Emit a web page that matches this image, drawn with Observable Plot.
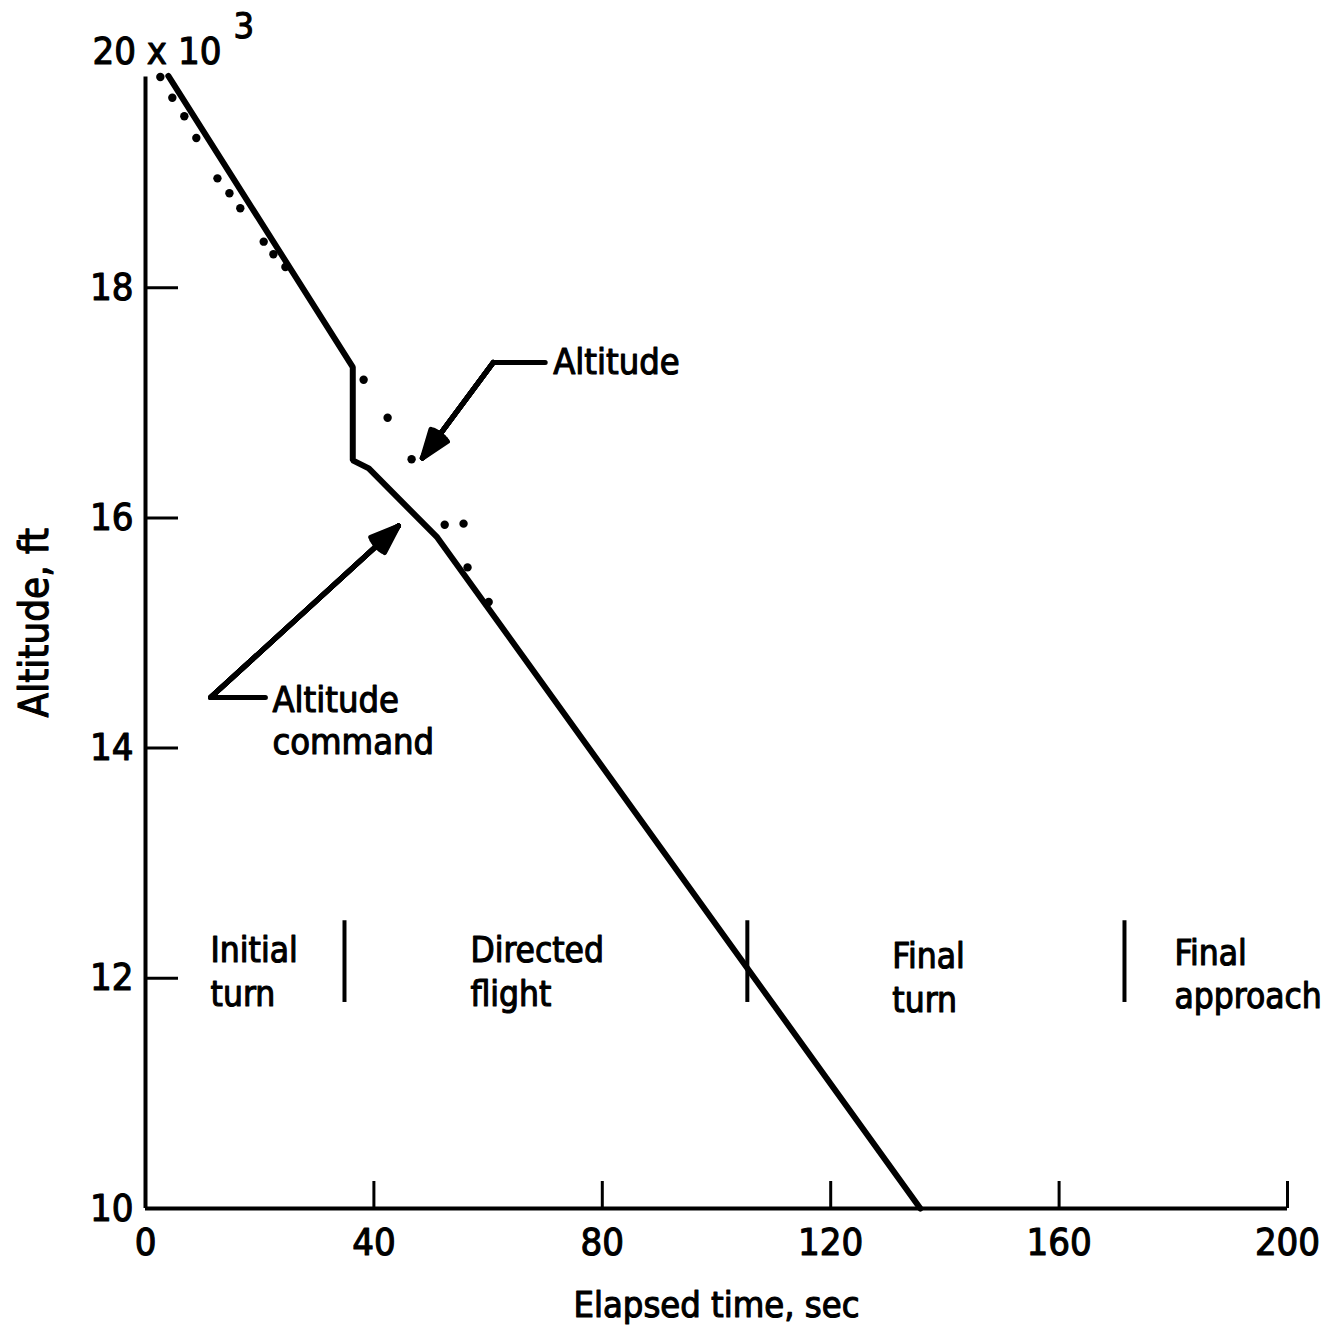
<!DOCTYPE html>
<html><head><meta charset="utf-8">
<script src="https://cdn.jsdelivr.net/npm/d3@7"></script>
<script src="https://cdn.jsdelivr.net/npm/@observablehq/plot@0.6"></script>
<style>body{margin:0;background:#fff}</style>
</head><body><div id="chart"></div>
<script>
// Altitude command (solid line), elapsed time in sec, altitude in thousands of ft
const commandTime = [4.0, 36.3, 36.3, 39.1, 51.1, 135.7];
const commandAlt  = [19.84, 17.31, 16.50, 16.43, 15.83, 10.0];
// Measured altitude (dots)
const altitudeTime = [2.6, 4.7, 6.8, 8.9, 12.6, 14.7, 16.6, 20.7, 22.4, 24.5, 38.2, 42.4, 46.6, 52.4, 55.7, 56.4, 60.1];
const altitudeAlt  = [19.83, 19.65, 19.49, 19.30, 18.95, 18.82, 18.69, 18.40, 18.29, 18.18, 17.20, 16.87, 16.51, 15.94, 15.95, 15.57, 15.27];
// Axes
const xTicks = [40, 80, 120, 160, 200];
const xTickLabels = [0, 40, 80, 120, 160, 200];
const yTicks = [12, 14, 16, 18];
const yTickLabels = [10, 12, 14, 16, 18];
const yTopLabel = "20 x 10";
const yTopExponent = "3";
const yAxisTop = 19.83;
// Flight phases
const phaseBounds = [34.85, 105.4, 171.45];
const phaseBarLow = 11.79, phaseBarHigh = 12.5;
const phaseNames = ["Initial\nturn", "Directed\nflight", "Final\nturn", "Final\napproach"];
const phaseStart = [11.4, 56.9, 130.8, 180.2];
const phaseMid = [12.07, 12.07, 12.02, 12.05];
// Annotations (leader polylines ending in arrow tips)
const altLeaderX = [70.0, 60.9, 48.5];
const altLeaderY = [17.35, 17.35, 16.52];
const cmdLeaderX = [21.0, 11.4, 44.3];
const cmdLeaderY = [14.44, 14.44, 15.93];

const FONT = "'DejaVu Sans Condensed', 'DejaVu Sans', sans-serif";
const pts = (xs, ys) => xs.map((x, i) => ({x, y: ys[i]}));
const cmd = pts(commandTime, commandAlt);
const alt = pts(altitudeTime, altitudeAlt);
const altLeader = pts(altLeaderX, altLeaderY);
const cmdLeader = pts(cmdLeaderX, cmdLeaderY);
const phases = phaseNames.map((n, i) => ({n, x: phaseStart[i], y: phaseMid[i]}));
const txt = {fill: "black", stroke: "black", strokeWidth: 1.1, fontFamily: FONT};

// filled-looking arrow heads: stack arrows with narrowing head angles
const arrowMarks = (leader) => [40, 30, 20, 10, 2].map(a =>
  Plot.arrow([leader], {x1: d => d[1].x, y1: d => d[1].y, x2: d => d[2].x, y2: d => d[2].y,
    strokeWidth: 5, headLength: 9, headAngle: a, strokeLinejoin: "miter"}));

const chart = Plot.plot({
  width: 1330, height: 1330,
  marginLeft: 145, marginRight: 43, marginTop: 57, marginBottom: 122,
  x: {domain: [0, 200], axis: null},
  y: {domain: [10, 20], axis: null},
  style: {fontFamily: FONT, fontSize: "36px", background: "white", color: "black"},
  marks: [
    // axis lines
    Plot.ruleY([10], {x1: 0, x2: 200, strokeWidth: 4}),
    Plot.ruleX([0], {y1: 10, y2: yAxisTop, strokeWidth: 4}),
    // ticks (inward)
    Plot.tickX(xTicks, {x: d => d, insetTop: 1151 - 27, strokeWidth: 3}),
    Plot.tickY(yTicks, {y: d => d, insetRight: 1142 - 33, strokeWidth: 3}),
    // tick labels
    Plot.text(xTickLabels, {x: d => d, y: 10, dy: 34, text: d => String(d), fontSize: 38, lineAnchor: "middle", ...txt}),
    Plot.text(yTickLabels, {x: 0, y: d => d, dx: -12, text: d => String(d), textAnchor: "end", fontSize: 38, lineAnchor: "middle", ...txt}),
    Plot.text([yTopLabel], {x: 0, y: 20, dx: -53, dy: -6, textAnchor: "start", fontSize: 38, lineAnchor: "middle", ...txt}),
    Plot.text([yTopExponent], {x: 0, y: 20, dx: 88, dy: -31, textAnchor: "start", fontSize: 36, lineAnchor: "middle", ...txt}),
    // axis titles
    Plot.text(["Elapsed time, sec"], {x: 100, y: 10, dy: 97, fontSize: 36, lineAnchor: "middle", ...txt}),
    Plot.text(["Altitude, ft"], {x: 0, y: 15.09, dx: -110, rotate: -90, fontSize: 40, lineAnchor: "middle", ...txt}),
    // phases
    Plot.ruleX(phaseBounds, {x: d => d, y1: phaseBarLow, y2: phaseBarHigh, strokeWidth: 4}),
    Plot.text(phases, {x: "x", y: "y", text: "n", textAnchor: "start", lineAnchor: "middle", lineHeight: 1.25, fontSize: 35, ...txt}),
    // data
    Plot.line(cmd, {x: "x", y: "y", strokeWidth: 6, strokeLinejoin: "miter"}),
    Plot.dot(alt, {x: "x", y: "y", r: 4.2, fill: "black", stroke: null}),
    // annotations
    Plot.line(altLeader, {x: "x", y: "y", strokeWidth: 5, strokeLinejoin: "round"}),
    ...arrowMarks(altLeader),
    Plot.text(["Altitude"], {x: altLeaderX[0], y: altLeaderY[0], dx: 8, textAnchor: "start", lineAnchor: "middle", fontSize: 36, ...txt}),
    Plot.line(cmdLeader, {x: "x", y: "y", strokeWidth: 5, strokeLinejoin: "round"}),
    ...arrowMarks(cmdLeader),
    Plot.text(["Altitude\ncommand"], {x: cmdLeaderX[0], y: 14.25, dx: 7, textAnchor: "start", lineAnchor: "middle", lineHeight: 1.17, fontSize: 36, ...txt})
  ]
});
document.getElementById("chart").appendChild(chart);
</script>
</body></html>
